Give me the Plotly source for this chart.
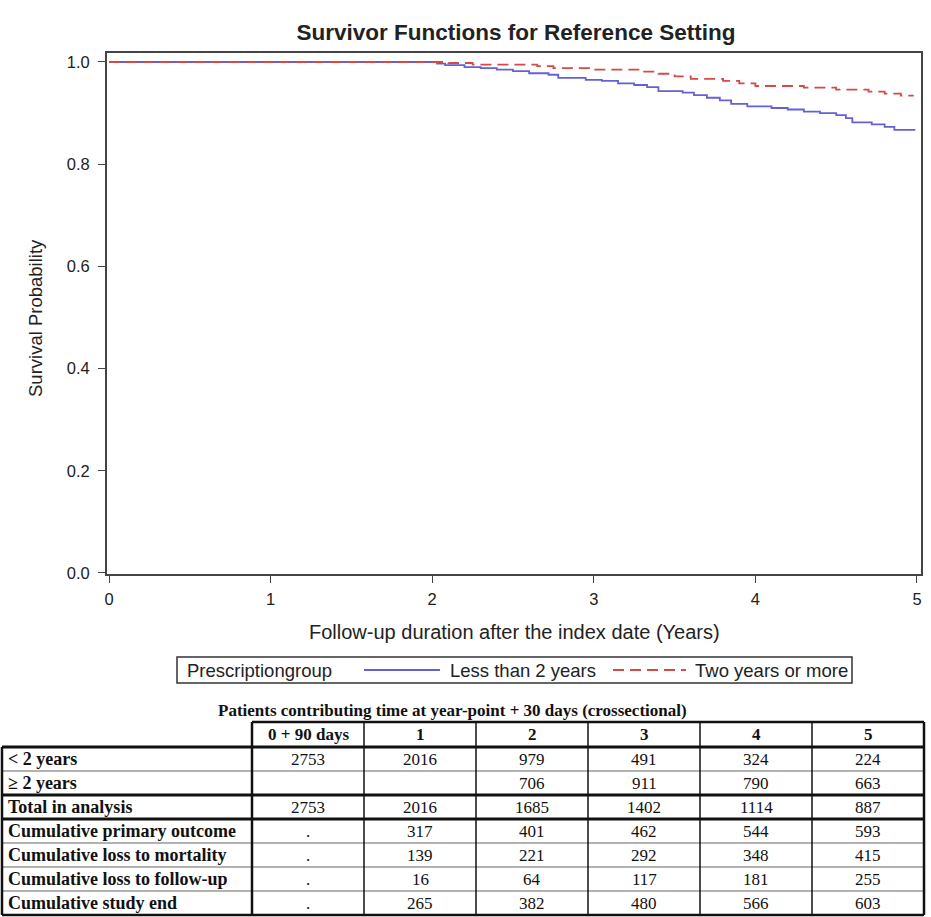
import plotly.graph_objects as go

# ---------------- data ----------------
# Kaplan-Meier step points (years, survival)
lt2_time = [0, 2.03, 2.08, 2.20, 2.30, 2.40, 2.50, 2.60, 2.72, 2.78, 2.95, 3.05, 3.15, 3.25, 3.33,
            3.40, 3.55, 3.62, 3.70, 3.78, 3.85, 3.95, 4.10, 4.20, 4.30, 4.40, 4.50, 4.56, 4.60,
            4.72, 4.80, 4.86, 4.99]
lt2_surv = [1.0, 0.997, 0.994, 0.990, 0.988, 0.985, 0.982, 0.978, 0.975, 0.969, 0.965, 0.963, 0.958,
            0.955, 0.951, 0.943, 0.940, 0.935, 0.930, 0.925, 0.918, 0.913, 0.910, 0.907, 0.903,
            0.900, 0.896, 0.890, 0.882, 0.878, 0.873, 0.867, 0.867]
ge2_time = [0, 2.10, 2.25, 2.65, 2.75, 3.00, 3.30, 3.40, 3.50, 3.60, 3.80, 3.90, 4.00, 4.30, 4.50,
            4.70, 4.80, 4.90, 4.98]
ge2_surv = [1.0, 0.998, 0.995, 0.992, 0.988, 0.985, 0.981, 0.977, 0.972, 0.967, 0.963, 0.958, 0.953,
            0.950, 0.946, 0.942, 0.938, 0.934, 0.934]

series_names = ["Less than 2 years", "Two years or more"]
x_ticks = [0, 1, 2, 3, 4, 5]
y_ticks = [0.0, 0.2, 0.4, 0.6, 0.8, 1.0]

table_title = "Patients contributing time at year-point + 30 days (crossectional)"
col_headers = ["0 + 90 days", "1", "2", "3", "4", "5"]
row_labels = ["< 2 years", "≥ 2 years", "Total in analysis", "Cumulative primary outcome",
              "Cumulative loss to mortality", "Cumulative loss to follow-up", "Cumulative study end"]
row_lt2 = ["2753", "2016", "979", "491", "324", "224"]
row_ge2 = ["", "", "706", "911", "790", "663"]
row_total = ["2753", "2016", "1685", "1402", "1114", "887"]
row_primary = [".", "317", "401", "462", "544", "593"]
row_mortality = [".", "139", "221", "292", "348", "415"]
row_followup = [".", "16", "64", "117", "181", "255"]
row_studyend = [".", "265", "382", "480", "566", "603"]
table_rows = [row_lt2, row_ge2, row_total, row_primary, row_mortality, row_followup, row_studyend]

# ---------------- layout constants (pixels) ----------------
W, H = 931, 917
def px(x):
    return x / W
def py(y):
    return 1 - y / H

PL, PR, PT, PB = 107, 921, 53, 574
BLUE = "#6262d6"
RED = "#d24a4a"
SANS = "Liberation Sans, Arial, sans-serif"

fig = go.Figure()
fig.add_trace(go.Scatter(x=lt2_time, y=lt2_surv, mode="lines", name=series_names[0],
                         line=dict(color=BLUE, width=1.8, shape="hv"), showlegend=False))
fig.add_trace(go.Scatter(x=ge2_time, y=ge2_surv, mode="lines", name=series_names[1],
                         line=dict(color=RED, width=1.8, shape="hv", dash="11px,6px"),
                         showlegend=False))

AX = "#444444"
fig.update_layout(
    width=W, height=H, margin=dict(l=0, r=0, t=0, b=0),
    paper_bgcolor="white", plot_bgcolor="white",
    font=dict(family=SANS, color="#222"),
    title=dict(text="<b>Survivor Functions for Reference Setting</b>", x=px(516), y=py(32),
               xanchor="center", yanchor="middle",
               font=dict(size=22.5, color="#222", family=SANS)),
    xaxis=dict(domain=[px(PL), px(PR)], range=[-0.0124, 5.0248], tickvals=x_ticks,
               showline=True, linecolor=AX, linewidth=1.8, mirror=True,
               ticks="outside", ticklen=7, tickcolor=AX, tickwidth=1.3,
               showgrid=False, zeroline=False, tickfont=dict(size=16.5, color="#222"),
               ticklabelstandoff=2, automargin=False),
    yaxis=dict(domain=[py(PB), py(PT)], range=[-0.002, 1.0176], tickvals=y_ticks,
               tickformat=".1f",
               showline=True, linecolor=AX, linewidth=1.8, mirror=True,
               ticks="outside", ticklen=7, tickcolor=AX, tickwidth=1.3,
               showgrid=False, zeroline=False, tickfont=dict(size=16.5, color="#222"),
               ticklabelstandoff=5, automargin=False),
)

annotations = []
shapes = []
# axis titles
annotations.append(dict(text="Follow-up duration after the index date (Years)", x=px(514), y=py(632),
                        xref="paper", yref="paper", showarrow=False, xanchor="center", yanchor="middle",
                        font=dict(size=20, color="#222")))
annotations.append(dict(text="Survival Probability", x=px(35), y=py(318), xref="paper", yref="paper",
                        showarrow=False, textangle=-90, xanchor="center", yanchor="middle",
                        font=dict(size=18.5, color="#222")))

# legend (manual)
LY = 670
LF = 18.5
shapes.append(dict(type="rect", xref="paper", yref="paper", x0=px(177), x1=px(852), y0=py(657), y1=py(683),
                   line=dict(color="#333", width=1.5), fillcolor="rgba(0,0,0,0)"))
annotations.append(dict(text="Prescriptiongroup", x=px(185), y=py(LY), xref="paper", yref="paper",
                        showarrow=False, xanchor="left", yanchor="middle", font=dict(size=LF, color="#222")))
shapes.append(dict(type="line", xref="paper", yref="paper", x0=px(364), x1=px(440), y0=py(LY), y1=py(LY),
                   line=dict(color=BLUE, width=1.8)))
annotations.append(dict(text=series_names[0], x=px(448), y=py(LY), xref="paper", yref="paper",
                        showarrow=False, xanchor="left", yanchor="middle", font=dict(size=LF, color="#222")))
shapes.append(dict(type="line", xref="paper", yref="paper", x0=px(613), x1=px(686), y0=py(LY), y1=py(LY),
                   line=dict(color=RED, width=1.8, dash="11px,6px")))
annotations.append(dict(text=series_names[1], x=px(693), y=py(LY), xref="paper", yref="paper",
                        showarrow=False, xanchor="left", yanchor="middle", font=dict(size=LF, color="#222")))

# ---------------- table ----------------
SERIF = "Liberation Serif, Times New Roman, serif"
annotations.append(dict(text="<b>" + table_title + "</b>", x=px(452), y=py(710), xref="paper", yref="paper",
                        showarrow=False, xanchor="center", yanchor="middle",
                        font=dict(size=17, color="#111", family=SERIF)))
TL, LABW, CW = 2, 252, 112
TR = LABW + CW * len(col_headers)
HT, HB = 722, 747
RH = 24
n_rows = len(row_labels)
TB = HB + RH * n_rows

def hline(y, x0, x1, w, c="#111"):
    shapes.append(dict(type="line", xref="paper", yref="paper", x0=px(x0), x1=px(x1), y0=py(y), y1=py(y),
                       line=dict(color=c, width=w)))

def vline(x, y0, y1, w, c="#111"):
    shapes.append(dict(type="line", xref="paper", yref="paper", x0=px(x), x1=px(x), y0=py(y0), y1=py(y1),
                       line=dict(color=c, width=w)))

# inner horizontal lines
for i in range(1, n_rows):
    yy = HB + RH * i
    if i in (2, 3):
        hline(yy, TL, TR, 3)
    else:
        hline(yy, TL, TR, 1.2, "#666")
# verticals
for j in range(1, len(col_headers)):
    vline(LABW + CW * j, HT, TB, 1.5)
vline(LABW, HT, TB, 2.5)
vline(TR, HT, TB, 2.5)
vline(TL, HB, TB, 2.5)
hline(HT, LABW, TR, 2.5)
hline(HB, TL, TR, 3)
hline(TB, TL, TR, 2.5)

for j, h in enumerate(col_headers):
    annotations.append(dict(text="<b>" + h + "</b>", x=px(LABW + CW * (j + 0.5)), y=py((HT + HB) / 2),
                            xref="paper", yref="paper", showarrow=False, xanchor="center", yanchor="middle",
                            font=dict(size=17, color="#111", family=SERIF)))
for i, (lab, vals) in enumerate(zip(row_labels, table_rows)):
    yc = HB + RH * (i + 0.5)
    annotations.append(dict(text="<b>" + lab + "</b>", x=px(TL + 4), y=py(yc), xref="paper", yref="paper",
                            showarrow=False, xanchor="left", yanchor="middle",
                            font=dict(size=18, color="#111", family=SERIF)))
    for j, v in enumerate(vals):
        if v == "":
            continue
        annotations.append(dict(text=v, x=px(LABW + CW * (j + 0.5)), y=py(yc), xref="paper", yref="paper",
                                showarrow=False, xanchor="center", yanchor="middle",
                                font=dict(size=17, color="#111", family=SERIF)))

fig.update_layout(annotations=annotations, shapes=shapes)
fig.write_html("out.html")
